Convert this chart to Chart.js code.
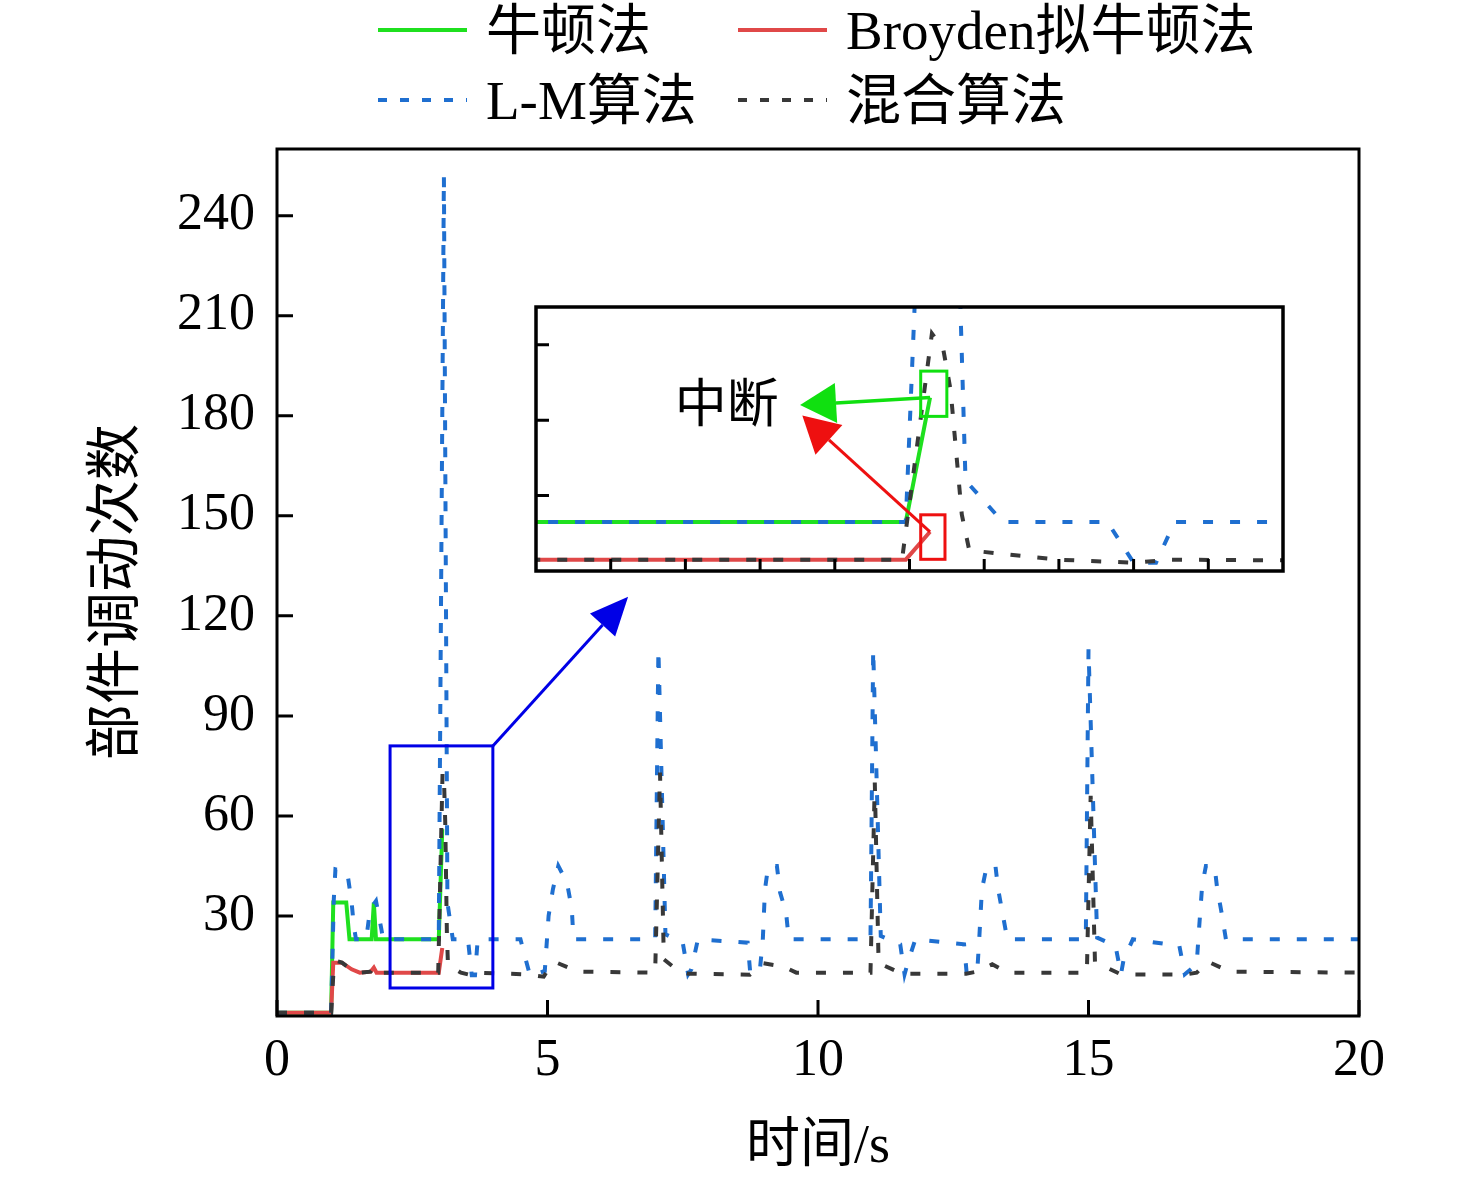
<!DOCTYPE html>
<html>
<head>
<meta charset="utf-8">
<script src="https://cdn.jsdelivr.net/npm/chart.js@4.4.1/dist/chart.umd.min.js"></script>
<style>
  html, body { margin: 0; padding: 0; background: #fff; overflow: hidden; }
  #main { position: absolute; left: 0; top: 0; width: 1476px; height: 1180px; }
  #inset { position: absolute; left: 530px; top: 301px; width: 759px; height: 276px; }
</style>
</head>
<body>
<div id="main"><canvas id="mainChart"></canvas></div>
<div id="inset"><canvas id="insetChart"></canvas></div>
<script>
// series: time (s) and iteration counts
const newtonT = [0, 1.0, 1.04, 1.28, 1.34, 1.75, 1.79, 1.83, 2.99, 3.055];
const newtonV = [1, 1, 34, 34, 23, 23, 34, 23, 23, 56];

const broydenT = [0, 1.0, 1.04, 1.2, 1.38, 1.53, 1.73, 1.79, 1.84, 2.99, 3.055];
const broydenV = [1, 1, 16, 16, 14, 13, 13.3, 14.5, 13, 13, 20.4];

const lmT = [0, 1.0, 1.05, 1.08, 1.3, 1.38, 1.42, 1.46, 1.65, 1.72, 1.83, 1.93, 1.96, 2.99, 3.085,
  3.15, 3.25, 3.53, 3.6, 3.66, 3.71, 4.5, 4.58, 4.68, 4.95, 5.02, 5.1, 5.2, 5.36, 5.45, 5.48,
  6.99, 7.05, 7.18, 7.5, 7.6, 7.66, 7.78, 8.7, 8.75, 8.93, 8.98, 9.02, 9.08, 9.24, 9.3, 9.41, 9.46,
  10.97, 11.02, 11.16, 11.52, 11.6, 11.66, 11.8, 12.7, 12.75, 12.95, 12.98, 13.03, 13.12, 13.28, 13.33, 13.42, 13.5,
  14.95, 15.0, 15.16, 15.5, 15.6, 15.65, 15.82, 16.68, 16.78, 17.0, 17.03, 17.1, 17.17, 17.33, 17.38, 17.46, 17.54, 20];
const lmV = [1, 1, 35, 44, 43, 34, 27, 23, 23, 32, 34.5, 26, 23, 23, 252,
  34, 23, 23, 12.2, 12.2, 23, 23, 18, 12, 13.5, 30, 38, 45, 40, 32, 23,
  23, 110, 24.5, 22, 12.5, 14, 23, 22, 12.5, 14.5, 23, 38, 45, 45, 37, 31, 23,
  23, 110, 24, 21.5, 12.5, 16, 23, 21.5, 12.5, 15, 23, 38, 45, 45, 38, 30, 23,
  23, 110, 23.5, 21, 12.5, 17, 23, 21, 12.5, 15.5, 23, 39, 45, 45, 38, 31, 23, 23];

const hybridT = [0, 1.0, 1.05, 1.1, 1.2, 1.41, 1.55, 1.73, 1.79, 1.84, 2.98, 3.06, 3.09, 3.11, 3.14,
  3.16, 3.25, 3.4, 3.6, 3.7, 4.6, 4.93, 5.05, 5.17, 5.57, 6.99, 7.08, 7.15, 7.42, 7.6,
  8.74, 8.99, 9.36, 9.6, 10.97, 11.05, 11.12, 11.2, 11.55, 12.74, 12.93, 13.22, 13.5, 14.97, 15.04,
  15.12, 15.21, 15.6, 16.78, 17.0, 17.21, 17.61, 20];
const hybridV = [1, 1, 15, 16.5, 16, 13.5, 13, 13.3, 14.5, 13, 13, 73, 69, 58, 25,
  15.5, 14.5, 13, 12.2, 13, 12.5, 11.8, 15, 16, 13.3, 13, 73, 17, 13.5, 12.7,
  12.4, 15.8, 14.8, 13, 13, 70, 16, 15.3, 12.7, 12.7, 13.3, 15.5, 13, 13, 66,
  16, 15.5, 12.5, 12.4, 13, 16.3, 13.3, 13];

const seriesNames = ['牛顿法', 'Broyden拟牛顿法', 'L-M算法', '混合算法'];
const xTicks = [0, 5, 10, 15, 20];
const yTicks = [30, 60, 90, 120, 150, 180, 210, 240];
const insetXTicks = [2.2, 2.4, 2.6, 2.8, 3.0, 3.2, 3.4, 3.6, 3.8];
const insetYTicks = [30, 50, 70];

const FONT = '"Liberation Serif", "Noto Sans CJK SC", serif';
Chart.defaults.font.family = FONT;
Chart.defaults.color = '#000';

const pts = (t, v) => t.map((x, i) => ({ x: x, y: v[i] }));

function makeDatasets() {
  return [
    { label: seriesNames[0], data: pts(newtonT, newtonV), borderColor: '#1fe01f', borderWidth: 4, order: 4 },
    { label: seriesNames[1], data: pts(broydenT, broydenV), borderColor: '#e04848', borderWidth: 4, order: 3 },
    { label: seriesNames[2], data: pts(lmT, lmV), borderColor: '#1f6fd0', borderWidth: 4, borderDash: [10, 17], order: 2 },
    { label: seriesNames[3], data: pts(hybridT, hybridV), borderColor: '#383838', borderWidth: 4, borderDash: [10, 17], order: 1 }
  ].map(d => Object.assign(d, { pointRadius: 0, tension: 0, fill: false }));
}

function drawArrow(ctx, x1, y1, x2, y2, color, lw, headLen, headW) {
  const a = Math.atan2(y2 - y1, x2 - x1);
  const bx = x2 - headLen * Math.cos(a), by = y2 - headLen * Math.sin(a);
  ctx.save();
  ctx.strokeStyle = color; ctx.fillStyle = color; ctx.lineWidth = lw;
  ctx.setLineDash([]);
  ctx.beginPath(); ctx.moveTo(x1, y1); ctx.lineTo(bx, by); ctx.stroke();
  ctx.beginPath();
  ctx.moveTo(x2, y2);
  ctx.lineTo(bx + headW / 2 * Math.sin(a), by - headW / 2 * Math.cos(a));
  ctx.lineTo(bx - headW / 2 * Math.sin(a), by + headW / 2 * Math.cos(a));
  ctx.closePath(); ctx.fill();
  ctx.restore();
}

// frame, inward ticks, y title, zoom box and legend of the main plot
const mainDecor = {
  id: 'mainDecor',
  afterDraw(chart) {
    const { ctx, chartArea: a, scales: { x, y } } = chart;
    ctx.save();
    ctx.strokeStyle = '#000';
    ctx.lineWidth = 3;
    ctx.strokeRect(a.left, a.top, a.right - a.left, a.bottom - a.top);
    ctx.beginPath();
    yTicks.forEach(v => { const p = y.getPixelForValue(v); ctx.moveTo(a.left, p); ctx.lineTo(a.left + 16, p); });
    xTicks.forEach(v => { const p = x.getPixelForValue(v); ctx.moveTo(p, a.bottom); ctx.lineTo(p, a.bottom - 16); });
    ctx.stroke();

    // y axis title
    ctx.save();
    ctx.translate(118, 592);
    ctx.rotate(-Math.PI / 2);
    ctx.font = '56px ' + FONT;
    ctx.fillStyle = '#000';
    ctx.textAlign = 'center';
    ctx.textBaseline = 'middle';
    ctx.fillText('部件调动次数', 0, 0);
    ctx.restore();

    // blue zoom box + arrow towards the inset
    ctx.strokeStyle = '#0000e6';
    ctx.lineWidth = 3;
    const bx1 = x.getPixelForValue(2.09), bx2 = x.getPixelForValue(3.99);
    const by1 = y.getPixelForValue(81), by2 = y.getPixelForValue(8.4);
    ctx.strokeRect(bx1, by1, bx2 - bx1, by2 - by1);
    drawArrow(ctx, bx2, by1, x.getPixelForValue(6.49), y.getPixelForValue(125.7), '#0000e6', 3, 38, 34);

    // legend, two columns
    const cols = [378, 738], rowsY = [30, 100];
    ctx.font = '55px ' + FONT;
    ctx.textBaseline = 'middle';
    ctx.textAlign = 'left';
    chart.data.datasets.forEach((d, i) => {
      const lx = cols[i % 2], ly = rowsY[Math.floor(i / 2)];
      ctx.save();
      ctx.strokeStyle = d.borderColor;
      ctx.lineWidth = d.borderWidth;
      ctx.setLineDash(d.borderDash ? [9, 13] : []);
      ctx.beginPath(); ctx.moveTo(lx, ly); ctx.lineTo(lx + 89, ly); ctx.stroke();
      ctx.restore();
      ctx.fillStyle = '#000';
      ctx.fillText(d.label, lx + 108, ly + 5);
    });
    ctx.restore();
  }
};

new Chart(document.getElementById('mainChart'), {
  type: 'line',
  data: { datasets: makeDatasets() },
  options: {
    responsive: true,
    maintainAspectRatio: false,
    animation: false,
    layout: { padding: { left: 0, right: 117, top: 149, bottom: 0 } },
    plugins: { legend: { display: false }, tooltip: { enabled: false } },
    scales: {
      x: {
        type: 'linear', min: 0, max: 20,
        afterBuildTicks: s => { s.ticks = xTicks.map(v => ({ value: v })); },
        afterFit: s => { s.height = 164; },
        grid: { display: false, drawTicks: false },
        border: { display: false },
        ticks: { padding: 14, maxRotation: 0, autoSkip: false, font: { size: 52 } },
        title: { display: true, text: '时间/s', font: { size: 54 }, padding: { top: 0, bottom: 0 } }
      },
      y: {
        type: 'linear', min: 0, max: 260,
        afterBuildTicks: s => { s.ticks = yTicks.map(v => ({ value: v })); },
        afterFit: s => { s.width = 277; },
        grid: { display: false, drawTicks: false },
        border: { display: false },
        ticks: { padding: 22, autoSkip: false, font: { size: 52 } }
      }
    }
  },
  plugins: [mainDecor]
});

// inset: same series, zoomed on 2–4 s
const insetDecor = {
  id: 'insetDecor',
  beforeDraw(chart) {
    const { ctx, width, height } = chart;
    ctx.save(); ctx.fillStyle = '#fff'; ctx.fillRect(0, 0, width, height); ctx.restore();
  },
  afterDraw(chart) {
    const { ctx, chartArea: a, scales: { x, y } } = chart;
    ctx.save();
    ctx.strokeStyle = '#000';
    ctx.lineWidth = 3.5;
    ctx.strokeRect(a.left, a.top, a.right - a.left, a.bottom - a.top);
    ctx.lineWidth = 3;
    ctx.beginPath();
    insetXTicks.forEach(v => { const p = x.getPixelForValue(v); ctx.moveTo(p, a.bottom); ctx.lineTo(p, a.bottom - 12); });
    insetYTicks.forEach(v => { const p = y.getPixelForValue(v); ctx.moveTo(a.left, p); ctx.lineTo(a.left + 13, p); });
    ctx.stroke();

    const box = (t1, t2, v1, v2, c) => {
      ctx.strokeStyle = c; ctx.lineWidth = 3;
      const x1 = x.getPixelForValue(t1), x2 = x.getPixelForValue(t2);
      const y1 = y.getPixelForValue(v2), y2 = y.getPixelForValue(v1);
      ctx.strokeRect(x1, y1, x2 - x1, y2 - y1);
    };
    box(3.03, 3.10, 51, 63, '#10e010');
    box(3.03, 3.095, 13.1, 24.9, '#ee1010');
    drawArrow(ctx, x.getPixelForValue(3.055), y.getPixelForValue(56), x.getPixelForValue(2.707), y.getPixelForValue(54), '#10e010', 3.5, 36, 40);
    drawArrow(ctx, x.getPixelForValue(3.055), y.getPixelForValue(20.4), x.getPixelForValue(2.713), y.getPixelForValue(51.2), '#ee1010', 3, 36, 40);

    ctx.fillStyle = '#000';
    ctx.font = '52px ' + FONT;
    ctx.textAlign = 'center';
    ctx.textBaseline = 'middle';
    ctx.fillText('中断', x.getPixelForValue(2.511), y.getPixelForValue(53));
    ctx.restore();
  }
};

new Chart(document.getElementById('insetChart'), {
  type: 'line',
  data: { datasets: makeDatasets() },
  options: {
    responsive: true,
    maintainAspectRatio: false,
    animation: false,
    layout: { padding: 6 },
    plugins: { legend: { display: false }, tooltip: { enabled: false } },
    scales: {
      x: { type: 'linear', min: 2, max: 4, display: false },
      y: { type: 'linear', min: 10, max: 80, display: false }
    }
  },
  plugins: [insetDecor]
});
</script>
</body>
</html>
